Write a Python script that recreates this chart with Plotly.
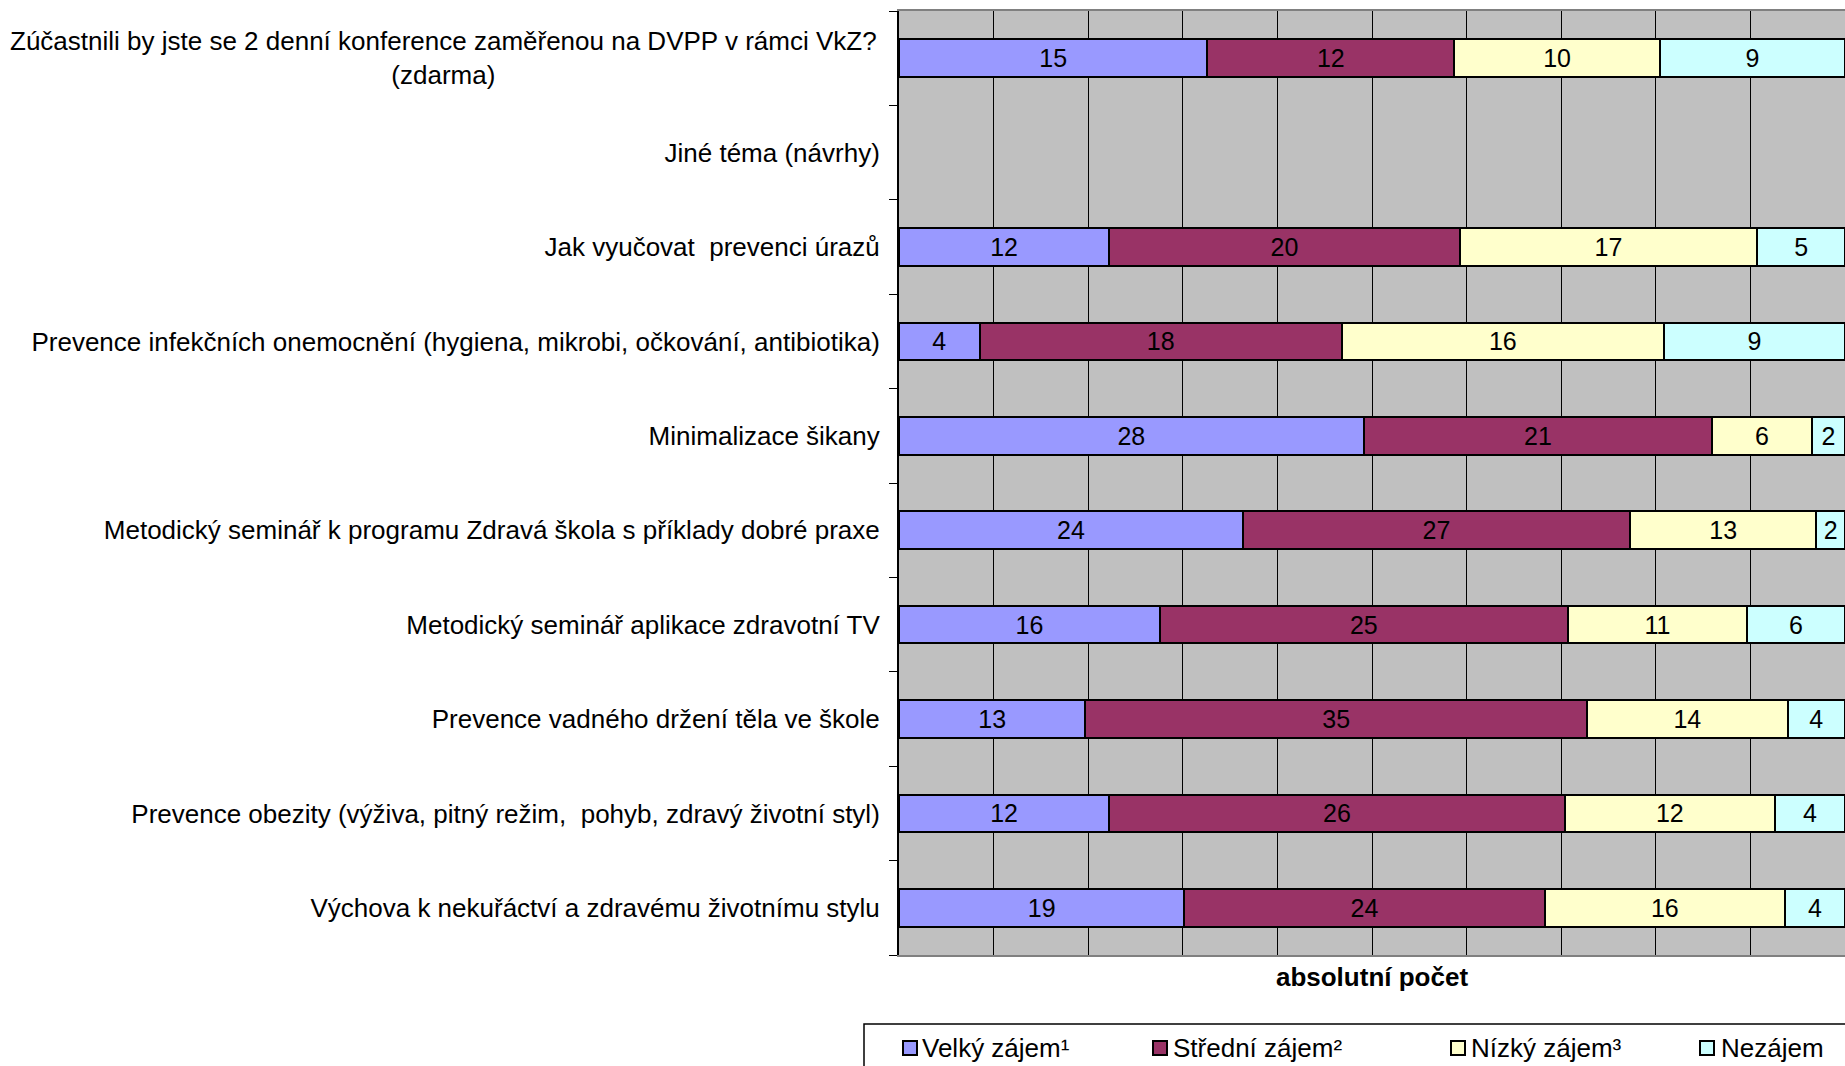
import plotly.graph_objects as go

# ---- data (top-to-bottom reading order) ----
cat_keys = ["c1", "c2", "c3", "c4", "c5", "c6", "c7", "c8", "c9", "c10"]
cat_labels = [
    "",  # first label drawn as a centred two-line annotation
    "Jiné téma (návrhy)",
    "Jak vyučovat\u00a0 prevenci úrazů",
    "Prevence infekčních onemocnění (hygiena, mikrobi, očkování, antibiotika)",
    "Minimalizace šikany",
    "Metodický seminář k programu Zdravá škola s příklady dobré praxe",
    "Metodický seminář aplikace zdravotní TV",
    "Prevence vadného držení těla ve škole",
    "Prevence obezity (výživa, pitný režim,\u00a0 pohyb, zdravý životní styl)",
    "Výchova k nekuřáctví a zdravému životnímu stylu",
]
first_label = "Zúčastnili by jste se 2 denní konference zaměřenou na DVPP v rámci VkZ?<br>(zdarma)"

series_names = ["Velký zájem¹", "Střední zájem²", "Nízký zájem³", "Nezájem"]
velky   = [15, None, 12, 4, 28, 24, 16, 13, 12, 19]
stredni = [12, None, 20, 18, 21, 27, 25, 35, 26, 24]
nizky   = [10, None, 17, 16, 6, 13, 11, 14, 12, 16]
nezajem = [9, None, 5, 9, 2, 2, 6, 4, 4, 4]
series_values = [velky, stredni, nizky, nezajem]
colors = ["#9999FF", "#993366", "#FFFFCC", "#CCFFFF"]

FONT = "Liberation Sans, Arial, sans-serif"
FS = 26

W, H = 1845, 1066
L, R, T, B = 899, 0, 11, 111
PW = W - L - R
PH = H - T - B


def px_x(p):
    return (p - L) / PW


def px_y(p):
    return (H - B - p) / PH


fig = go.Figure()
for name, vals, col in zip(series_names, series_values, colors):
    fig.add_trace(go.Bar(
        name=name, y=cat_keys, x=vals, orientation="h",
        marker=dict(color=col, line=dict(color="#000000", width=2)),
        text=[("" if v is None else str(v)) for v in vals],
        textposition="inside", insidetextanchor="middle", textangle=0,
        textfont=dict(family=FONT, size=FS - 1, color="#000000"),
        hoverinfo="skip",
    ))

shapes = []
annotations = []

# first (two-line, centred) category label
annotations.append(dict(
    xref="paper", yref="y", x=px_x(879), y=cat_keys[0], xanchor="right",
    yanchor="middle", align="center", showarrow=False, text=first_label,
    font=dict(family=FONT, size=FS, color="#000000"),
))

# legend box (extends beyond the visible page, as in the reference)
shapes.append(dict(type="rect", xref="paper", yref="paper",
                   x0=px_x(864), x1=px_x(1900), y0=px_y(1024), y1=px_y(1120),
                   line=dict(color="#000000", width=1.5), fillcolor="rgba(0,0,0,0)"))
leg_sq = [903, 1153, 1451, 1700]
leg_tx = [920, 1171, 1469, 1719]
leg_y = 1048
for nm, col, sx, tx in zip(series_names, colors, leg_sq, leg_tx):
    shapes.append(dict(type="rect", xref="paper", yref="paper",
                       x0=px_x(sx), x1=px_x(sx + 14), y0=px_y(leg_y - 7), y1=px_y(leg_y + 7),
                       line=dict(color="#000000", width=2), fillcolor=col))
    annotations.append(dict(xref="paper", yref="paper", x=px_x(tx), y=px_y(leg_y),
                            xanchor="left", yanchor="middle", showarrow=False, text=nm,
                            font=dict(family=FONT, size=FS, color="#000000")))

fig.update_layout(
    width=W, height=H, autosize=False,
    margin=dict(l=L, r=R, t=T, b=B, pad=0),
    barmode="stack", barnorm="percent", bargap=0.6,
    paper_bgcolor="#FFFFFF", plot_bgcolor="#C0C0C0",
    showlegend=False,
    uniformtext=dict(minsize=FS - 1, mode="show"),
    font=dict(family=FONT, size=FS, color="#000000"),
    shapes=shapes, annotations=annotations,
    xaxis=dict(
        range=[0, 100], tickmode="array", tickvals=[0, 10, 20, 30, 40, 50, 60, 70, 80, 90],
        showticklabels=False, ticks="", showgrid=True, gridcolor="#000000", gridwidth=1,
        zeroline=False, showline=True, linecolor="#808080", linewidth=2, mirror=True,
        title=dict(text="<b>absolutní počet</b>", standoff=12,
                   font=dict(family=FONT, size=FS, color="#000000")),
        fixedrange=True,
    ),
    yaxis=dict(
        type="category", categoryorder="array", categoryarray=cat_keys,
        autorange="reversed", tickmode="array", tickvals=cat_keys, ticktext=cat_labels,
        tickson="boundaries", ticks="outside", ticklen=8, tickcolor="#000000", tickwidth=1,
        ticklabelstandoff=12,
        showgrid=False, zeroline=False, showline=True, linecolor="#000000", linewidth=2,
        tickfont=dict(family=FONT, size=FS, color="#000000"),
        fixedrange=True,
    ),
)

fig.write_html("out.html", config={"displayModeBar": False},
               post_script="document.body.style.margin='0';document.body.style.overflow='hidden';")
